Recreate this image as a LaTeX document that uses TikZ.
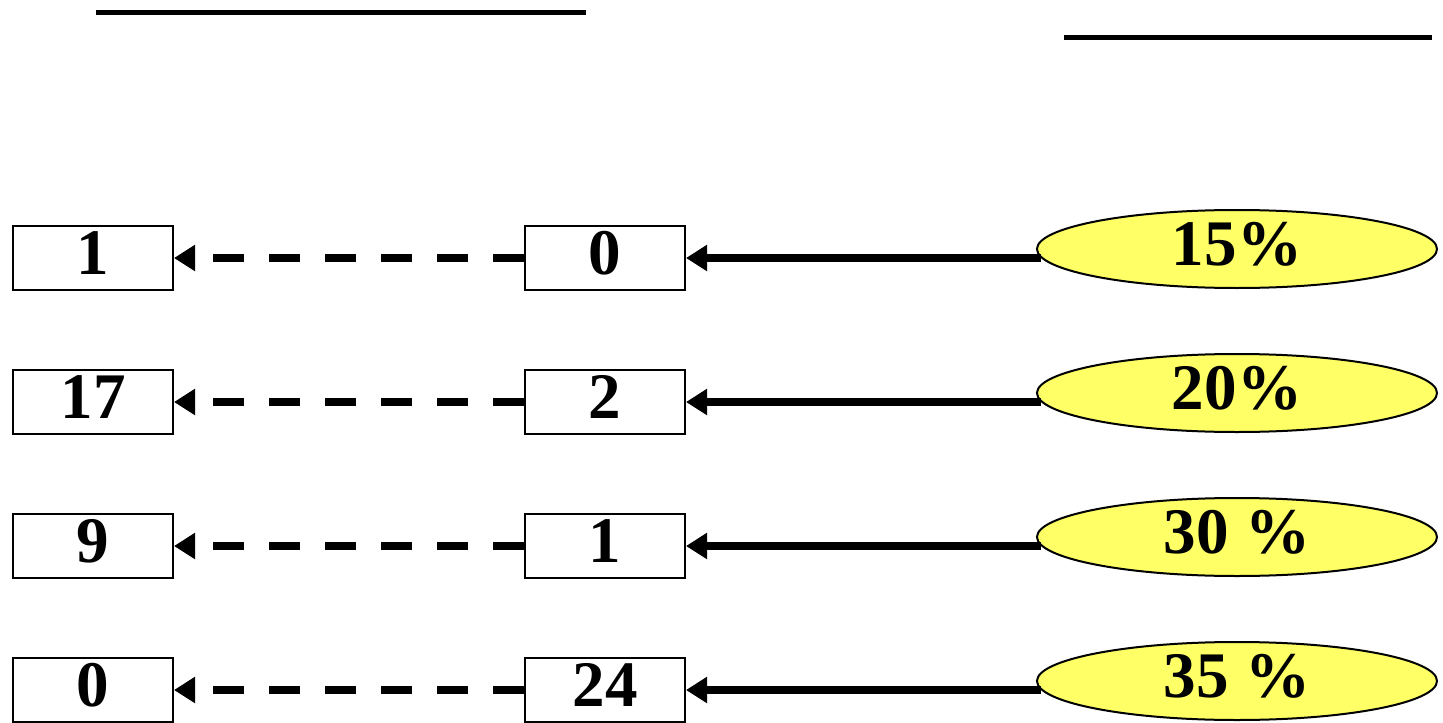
\documentclass[tikz,border=0pt]{standalone}
\usepackage{fontspec}
\setmainfont{Liberation Serif}
\usetikzlibrary{arrows.meta,shapes.geometric}

\definecolor{paleyellow}{RGB}{255,255,102}

\tikzset{
  numbox/.style={draw, line width=0.04cm, minimum width=3.2cm, minimum height=1.28cm,
    inner sep=0pt, text height=0.86cm, text depth=0.2cm,
    font=\fontsize{37}{40}\selectfont\bfseries},
  pctell/.style={ellipse, draw, line width=0.04cm, fill=paleyellow, minimum width=8cm,
    minimum height=1.56cm, inner sep=0pt, text height=0.86cm, text depth=0.2cm,
    font=\fontsize{37}{40}\selectfont\bfseries},
  solidarr/.style={line width=0.15cm, -{Triangle[length=0.42cm, width=0.5cm]}, shorten <=-0.1cm},
  dasharr/.style={line width=0.15cm, dash pattern=on 0.62cm off 0.5cm,
    -{Triangle[length=0.42cm, width=0.5cm]}}
}

\begin{document}
\begin{tikzpicture}
\useasboundingbox (0,0) rectangle (28.86,-14.46);

\draw [line width=0.1cm] (1.92,-0.25) -- (11.72,-0.25);
\draw [line width=0.1cm] (21.28,-0.74) -- (28.64,-0.74);

\node[numbox] (l1) at (1.86,-5.16) {1};
\node[numbox] (l2) at (1.86,-8.04) {17};
\node[numbox] (l3) at (1.86,-10.92) {9};
\node[numbox] (l4) at (1.86,-13.8) {0};

\node[numbox] (m1) at (12.1,-5.16) {0};
\node[numbox] (m2) at (12.1,-8.04) {2};
\node[numbox] (m3) at (12.1,-10.92) {1};
\node[numbox] (m4) at (12.1,-13.8) {24};

\node[pctell] (p1) at (24.74,-4.98) {15\%};
\node[pctell] (p2) at (24.74,-7.86) {20\%};
\node[pctell] (p3) at (24.74,-10.74) {30 \%};
\node[pctell] (p4) at (24.74,-13.62) {35 \%};

\draw [solidarr] (p1.west |- m1.east) -- (m1.east);
\draw [solidarr] (p2.west |- m2.east) -- (m2.east);
\draw [solidarr] (p3.west |- m3.east) -- (m3.east);
\draw [solidarr] (p4.west |- m4.east) -- (m4.east);

\draw [dasharr] (m1.west) -- (l1.east);
\draw [dasharr] (m2.west) -- (l2.east);
\draw [dasharr] (m3.west) -- (l3.east);
\draw [dasharr] (m4.west) -- (l4.east);

\end{tikzpicture}
\end{document}
